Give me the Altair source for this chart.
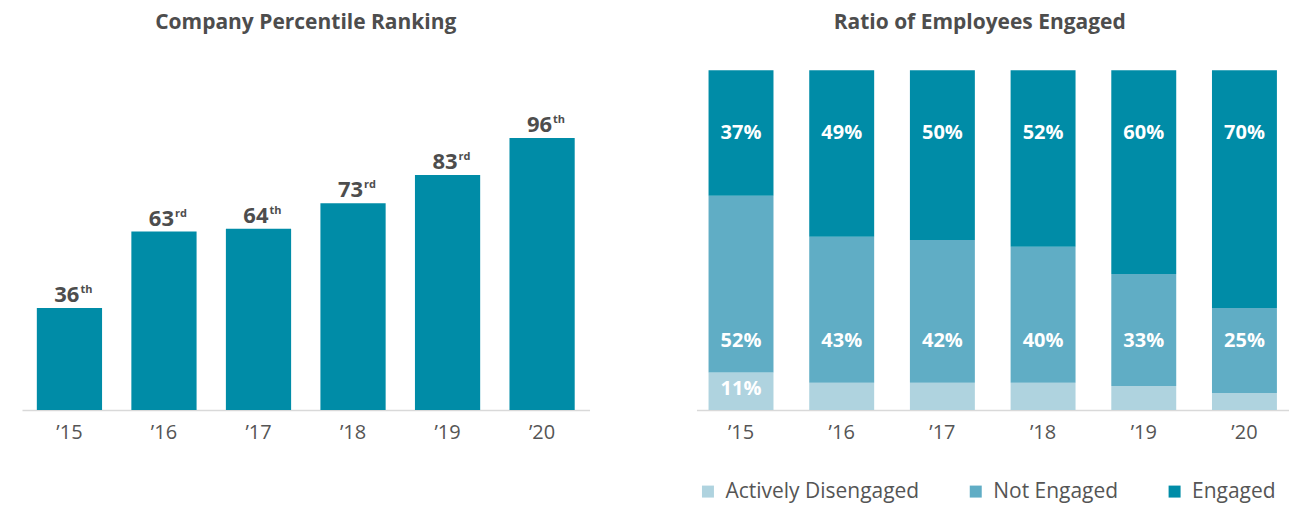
import altair as alt
import pandas as pd

years = ["’15", "’16", "’17", "’18", "’19", "’20"]
ranks = [36, 63, 64, 73, 83, 96]
suffixes = ["th", "rd", "th", "rd", "rd", "th"]

statuses = ["Actively Disengaged", "Not Engaged", "Engaged"]
actively_disengaged = [11, 8, 8, 8, 7, 5]
not_engaged = [52, 43, 42, 40, 33, 25]
engaged = [37, 49, 50, 52, 60, 70]

FONT = "Open Sans"
TEXT = "#4D4D4D"
C_ENG = "#008CA7"
C_NE = "#60ADC5"
C_AD = "#AFD3DF"

left_df = pd.DataFrame({"year": years, "rank": ranks, "suffix": suffixes})

rows = []
for i, y in enumerate(years):
    for s, vals in zip(statuses, [actively_disengaged, not_engaged, engaged]):
        rows.append({"year": y, "status": s, "value": vals[i]})
right_df = pd.DataFrame(rows)
right_df["label"] = right_df["value"].astype(str) + "%"

x_axis = alt.Axis(title=None, labelAngle=0, ticks=False, domainColor="#D9D9D9",
                  domainWidth=1.5, labelFontSize=20, labelColor="#555555",
                  labelPadding=13, labelFont=FONT)

base_l = alt.Chart(left_df).encode(
    x=alt.X("year:N", sort=years, axis=x_axis,
            scale=alt.Scale(paddingInner=0.31, paddingOuter=0.157)),
    y=alt.Y("rank:Q", scale=alt.Scale(domain=[0, 120]), axis=None),
)
bars_l = base_l.mark_bar(color=C_ENG)
num_l = base_l.mark_text(align="right", baseline="alphabetic", dx=10, dy=-6,
                         fontSize=22, fontWeight="bold", color=TEXT, font=FONT
                         ).encode(text="rank:Q")
suf_l = base_l.mark_text(align="left", baseline="alphabetic", dx=11, dy=-15,
                         fontSize=11, fontWeight="bold", color=TEXT, font=FONT
                         ).encode(text="suffix:N")
left = alt.layer(bars_l, num_l, suf_l).properties(
    width=568, height=340,
    title=alt.TitleParams("Company Percentile Ranking", fontSize=21, font=FONT,
                          fontWeight="bold", color=TEXT, offset=37),
)

base_r = alt.Chart(right_df).transform_calculate(
    ord="indexof(['Actively Disengaged','Not Engaged','Engaged'], datum.status)"
).encode(
    x=alt.X("year:N", sort=years, axis=x_axis,
            scale=alt.Scale(paddingInner=0.355, paddingOuter=0.12)),
)
bars_r = base_r.mark_bar().encode(
    y=alt.Y("value:Q", stack="normalize", axis=None),
    color=alt.Color("status:N", sort=statuses,
                    scale=alt.Scale(domain=statuses, range=[C_AD, C_NE, C_ENG]),
                    legend=alt.Legend(title=None, orient="none", legendX=676, legendY=411,
                                      direction="horizontal", symbolType="square",
                                      symbolSize=144, symbolStrokeWidth=0,
                                      labelFontSize=21, labelColor="#555555",
                                      labelFont=FONT, columnPadding=45, labelOffset=7,
                                      labelLimit=400)),
    order=alt.Order("ord:Q"),
)
txt_style = dict(fontSize=20, fontWeight="bold", color="white", font=FONT, baseline="middle")
eng_t = base_r.transform_filter("datum.status == 'Engaged'").mark_text(**txt_style).encode(
    text="label:N", y=alt.value(63))
ne_t = base_r.transform_filter("datum.status == 'Not Engaged'").mark_text(**txt_style).encode(
    text="label:N", y=alt.value(271))
ad_t = base_r.transform_filter("datum.status == 'Actively Disengaged' && datum.value >= 10").mark_text(
    **txt_style).encode(text="label:N", y=alt.value(319))
right = alt.layer(bars_r, eng_t, ne_t, ad_t).properties(
    width=593, height=340,
    title=alt.TitleParams("Ratio of Employees Engaged", fontSize=21, font=FONT,
                          fontWeight="bold", color=TEXT, offset=37, dx=-13),
)

chart = alt.hconcat(left, right, spacing=107).properties(
    padding={"left": 14, "top": 4, "right": 0, "bottom": 40}
).configure_view(stroke=None)

chart.save("out.html", embed_options={"renderer": "svg", "actions": False})
